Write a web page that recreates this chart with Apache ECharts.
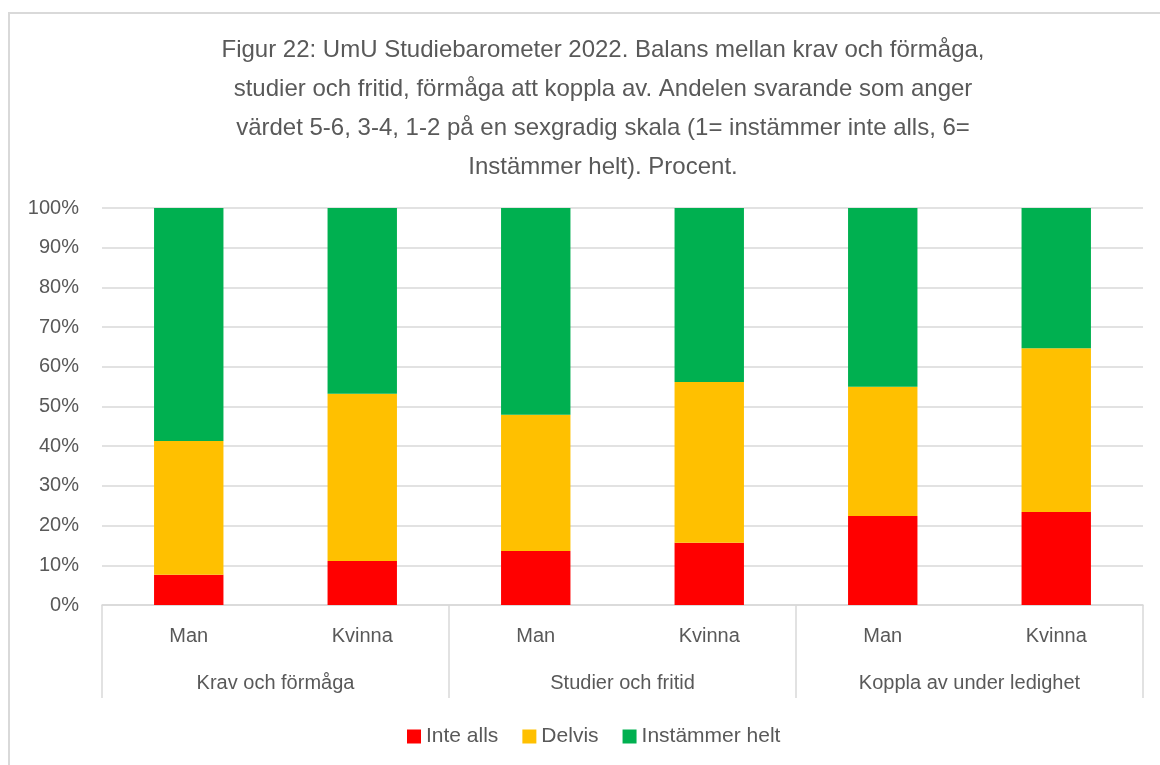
<!DOCTYPE html>
<html lang="sv">
<head>
    <meta charset="UTF-8">
    <title>Figur 22</title>
    <script src="https://cdn.jsdelivr.net/npm/echarts@6/dist/echarts.min.js"></script>
    <style>
        html, body { margin: 0; padding: 0; background: #fff; }
        #main { width: 1160px; height: 765px; }
    </style>
</head>
<body>
<div id="main"></div>
<script>
    // data (percent)
    var groups = ['Krav och förmåga', 'Studier och fritid', 'Koppla av under ledighet'];
    var genders = ['Man', 'Kvinna', 'Man', 'Kvinna', 'Man', 'Kvinna'];
    var inteAlls = [7.6, 11.1, 13.6, 15.7, 22.4, 23.4];
    var delvis = [33.7, 42.1, 34.3, 40.5, 32.6, 41.3];
    var helt = [58.7, 46.8, 52.1, 43.8, 45.0, 35.3];
    var yTicks = [0, 10, 20, 30, 40, 50, 60, 70, 80, 90, 100];

    var txt = '#595959';
    var line = '#d9d9d9';
    var font = 'Liberation Sans';

    var myChart = echarts.init(document.getElementById('main'));

    function bar(name, data, color) {
        return {
            name: name,
            type: 'bar',
            stack: 'tot',
            data: data,
            barCategoryGap: '60%',
            itemStyle: { color: color },
            emphasis: { disabled: true }
        };
    }

    var option = {
        animation: false,
        textStyle: { fontFamily: font },
        title: {
            text: 'Figur 22: UmU Studiebarometer 2022. Balans mellan krav och förmåga,\n' +
                'studier och fritid, förmåga att koppla av. Andelen svarande som anger\n' +
                'värdet 5-6, 3-4, 1-2 på en sexgradig skala (1= instämmer inte alls, 6=\n' +
                'Instämmer helt). Procent.',
            left: 598,
            top: 26,
            textAlign: 'center',
            textStyle: { color: txt, fontSize: 24, fontWeight: 'normal', lineHeight: 39, fontFamily: font }
        },
        graphic: [{
            type: 'rect',
            shape: { x: 9, y: 13, width: 1200, height: 800 },
            style: { fill: 'none', stroke: line, lineWidth: 2 },
            silent: true
        }],
        legend: {
            left: 402,
            top: 721,
            itemWidth: 14,
            itemHeight: 14,
            itemGap: 24,
            icon: 'rect',
            textStyle: { color: txt, fontSize: 21 },
            data: ['Inte alls', 'Delvis', 'Instämmer helt']
        },
        grid: { left: 102, right: 17, top: 208, bottom: 160 },
        xAxis: [{
            type: 'category',
            data: genders,
            position: 'bottom',
            axisLine: { lineStyle: { color: line, width: 1.5 } },
            axisTick: { show: false },
            axisLabel: { color: txt, fontSize: 20, margin: 21 }
        }, {
            type: 'category',
            data: groups,
            position: 'bottom',
            axisLine: { show: false },
            axisTick: { show: true, length: 93, lineStyle: { color: line, width: 1.5 } },
            axisLabel: { color: txt, fontSize: 20, margin: 68 },
            splitLine: { show: false }
        }],
        yAxis: {
            type: 'value',
            min: 0,
            max: 100,
            interval: 10,
            axisLine: { show: false },
            axisTick: { show: false },
            axisLabel: {
                color: txt, fontSize: 20, margin: 23,
                formatter: function (v) { return yTicks.indexOf(v) >= 0 ? v + '%' : ''; }
            },
            splitLine: { lineStyle: { color: line, width: 1.5 } }
        },
        series: [
            bar('Inte alls', inteAlls, '#ff0000'),
            bar('Delvis', delvis, '#ffc000'),
            bar('Instämmer helt', helt, '#00b050')
        ]
    };
    myChart.setOption(option);
</script>
</body>
</html>
